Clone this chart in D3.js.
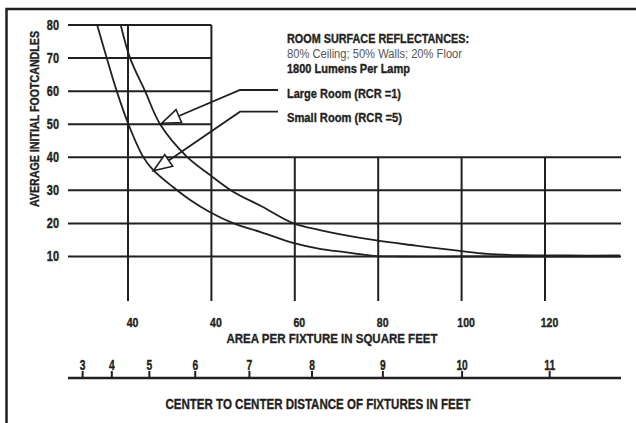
<!DOCTYPE html>
<html><head><meta charset="utf-8">
<script src="https://cdn.jsdelivr.net/npm/d3@7"></script>
<style>body{margin:0;background:#fff;} svg{display:block;}</style>
</head><body>
<svg id="c" width="636" height="423"></svg>
<script>
// ---- data ----
const fcTicks = [10, 20, 30, 40, 50, 60, 70, 80];
const areaTicks = [20, 40, 60, 80, 100, 120];
const areaTickLabels = ["40", "40", "60", "80", "100", "120"];
const distanceTicks = [3, 4, 5, 6, 7, 8, 9, 10, 11];

const largeArea = [18.25, 20.5, 24.1, 27.7, 34.1, 39.7, 45.2, 52, 59.6, 66.0, 78.8, 89, 99.1, 106.1, 114, 125, 138];
const largeFc   = [80, 70, 60, 50, 40.2, 34.6, 29.6, 25.2, 20.1, 18.0, 15.0, 13.3, 11.75, 10.8, 10.4, 10.3, 10.3];

const smallArea = [12.6, 14.9, 17.3, 20.1, 23.6, 26.0, 30.8, 35, 39.7, 45.2, 52, 59.6, 66.0, 72, 78.8, 85, 100, 120, 138];
const smallFc   = [80, 70, 60, 50, 40.2, 36.2, 31.0, 27.0, 23.4, 20.1, 17.3, 14.1, 12.3, 11.3, 10.2, 10, 10, 10, 10];

const noteLines = ["ROOM SURFACE REFLECTANCES:", "80% Ceiling; 50% Walls; 20% Floor", "1800 Lumens Per Lamp"];
const seriesLabels = ["Large Room (RCR =1)", "Small Room (RCR =5)"];
const arrowTipArea = [28.1, 26.1];
const arrowTipFc = [50.3, 35.9];

const yTitle = "AVERAGE INITIAL FOOTCANDLES";
const xTitle = "AREA PER FIXTURE IN SQUARE FEET";
const x2Title = "CENTER TO CENTER DISTANCE OF FIXTURES IN FEET";

// ---- layout ----
const INK = "#231f20";
const FONT = "'Liberation Sans', Arial, sans-serif";
const svg = d3.select("#c");
const x = d3.scaleLinear().domain([20, 120]).range([128, 545]);
const y = d3.scaleLinear().domain([10, 80]).range([256.5, 25]);
const xDist = d3.scalePow().exponent(2).domain([0, Math.sqrt(120)]).range([x(0), x(120)]);
const gridLeft = 68, gridRight = 621, gridBottom = 301;

function squeeze(sel, k) {
  sel.each(function () {
    const w = this.getComputedTextLength();
    this.setAttribute("textLength", w * k);
    this.setAttribute("lengthAdjust", "spacingAndGlyphs");
  });
}
function fit(sel, w) {
  sel.attr("textLength", w).attr("lengthAdjust", "spacingAndGlyphs");
}
function heavy(sel, sw) {
  sel.attr("stroke", INK).attr("stroke-width", sw || 0.35).attr("paint-order", "stroke");
}

// frame
svg.append("path").attr("d", "M6.5,423V9H636")
  .attr("fill", "none").attr("stroke", INK).attr("stroke-width", 2.5);

// horizontal grid
const g = svg.append("g").attr("stroke", INK).attr("stroke-width", 2);
g.selectAll("line.h").data(fcTicks).join("line").attr("class", "h")
  .attr("x1", gridLeft).attr("x2", d => d >= 50 ? x(40) : gridRight)
  .attr("y1", d => y(d)).attr("y2", d => y(d));
// vertical grid
g.selectAll("line.v").data(areaTicks).join("line").attr("class", "v")
  .attr("x1", d => x(d)).attr("x2", d => x(d))
  .attr("y1", d => d <= 40 ? y(80) : y(40)).attr("y2", gridBottom);

// y axis labels
const ya = svg.append("g").attr("transform", `translate(${gridLeft},0)`)
  .call(d3.axisLeft(y).tickValues(fcTicks).tickSize(0).tickPadding(9));
ya.select(".domain").remove();
ya.selectAll("text").attr("font-family", FONT).attr("font-weight", "bold")
  .attr("font-size", 14).attr("fill", INK).call(squeeze, 0.78).call(heavy, 0.4);

// y title
svg.append("text").attr("transform", "translate(38.5,119) rotate(-90)")
  .attr("text-anchor", "middle").attr("font-family", FONT).attr("font-weight", "bold")
  .attr("font-size", 12.5).attr("fill", INK).text(yTitle).call(fit, 176).call(heavy, 0.35);

// area axis labels
const xa = svg.append("g").attr("transform", "translate(4,317)")
  .call(d3.axisBottom(x).tickValues(areaTicks).tickFormat((d, i) => areaTickLabels[i]).tickSize(0).tickPadding(0));
xa.select(".domain").remove();
xa.selectAll("text").attr("font-family", FONT).attr("font-weight", "bold")
  .attr("font-size", 13.5).attr("fill", INK).call(squeeze, 0.78).call(heavy, 0.4);

svg.append("text").attr("x", 332).attr("y", 343).attr("text-anchor", "middle")
  .attr("font-family", FONT).attr("font-weight", "bold").attr("font-size", 13.5)
  .attr("fill", INK).text(xTitle).call(fit, 211).call(heavy, 0.35);

// distance axis
svg.append("line").attr("x1", gridLeft).attr("x2", gridRight).attr("y1", 378).attr("y2", 378)
  .attr("stroke", INK).attr("stroke-width", 2.5);
const da = svg.append("g").attr("transform", "translate(0,378)")
  .call(d3.axisTop(xDist).tickValues(distanceTicks).tickSize(7).tickPadding(1));
da.select(".domain").remove();
da.selectAll(".tick line").attr("stroke", INK).attr("stroke-width", 2);
da.selectAll("text").attr("font-family", FONT).attr("font-weight", "bold")
  .attr("font-size", 15.5).attr("fill", INK).call(squeeze, 0.66).call(heavy, 0.4);

svg.append("text").attr("x", 318).attr("y", 409).attr("text-anchor", "middle")
  .attr("font-family", FONT).attr("font-weight", "bold").attr("font-size", 14.5)
  .attr("fill", INK).text(x2Title).call(fit, 305).call(heavy, 0.35);

// curves
const line = d3.line().x(d => x(d[0])).y(d => y(d[1])).curve(d3.curveCatmullRom.alpha(0.5));
const curves = [d3.zip(largeArea, largeFc), d3.zip(smallArea, smallFc)];
svg.append("g").selectAll("path").data(curves).join("path")
  .attr("d", line).attr("fill", "none").attr("stroke", INK).attr("stroke-width", 1.8);

// notes
const noteY = [43, 58, 73];
const noteW = [182, 175, 123];
svg.append("g").selectAll("text").data(noteLines).join("text")
  .attr("x", 287).attr("y", (d, i) => noteY[i])
  .attr("font-family", FONT).attr("font-size", (d, i) => i === 1 ? 13 : 12.5)
  .attr("font-weight", (d, i) => i === 1 ? "normal" : "bold")
  .attr("fill", (d, i) => i === 1 ? "#555" : INK)
  .text(d => d)
  .each(function (d, i) {
    const t = d3.select(this).call(fit, noteW[i]);
    if (i !== 1) t.call(heavy, 0.35);
  });

// series labels with leader arrows
const labY = [98, 121.5];
const legW = [114, 115];
const kneeY = [90, 111.7];
const kneeX = 240, lineEndX = 278;
svg.append("g").selectAll("text").data(seriesLabels).join("text")
  .attr("x", 287).attr("y", (d, i) => labY[i])
  .attr("font-family", FONT).attr("font-weight", "bold").attr("font-size", 13)
  .attr("fill", INK).text(d => d)
  .each(function (d, i) { d3.select(this).call(fit, legW[i]).call(heavy, 0.35); });

const arr = svg.append("g");
seriesLabels.forEach((s, i) => {
  const tx = x(arrowTipArea[i]), ty = y(arrowTipFc[i]);
  const dx = kneeX - tx, dy = kneeY[i] - ty, L = Math.hypot(dx, dy);
  const ux = dx / L, uy = dy / L;
  const hl = 18.5, hw = 7;
  const bx = tx + ux * hl, by = ty + uy * hl;
  arr.append("path")
    .attr("d", `M${lineEndX},${kneeY[i]}H${kneeX}L${bx},${by}`)
    .attr("fill", "none").attr("stroke", INK).attr("stroke-width", 1.8);
  arr.append("path")
    .attr("d", `M${tx},${ty}L${bx - uy * hw},${by + ux * hw}L${bx + uy * hw},${by - ux * hw}Z`)
    .attr("fill", "#fff").attr("stroke", INK).attr("stroke-width", 1.6).attr("stroke-linejoin", "miter");
});
</script>
</body></html>
